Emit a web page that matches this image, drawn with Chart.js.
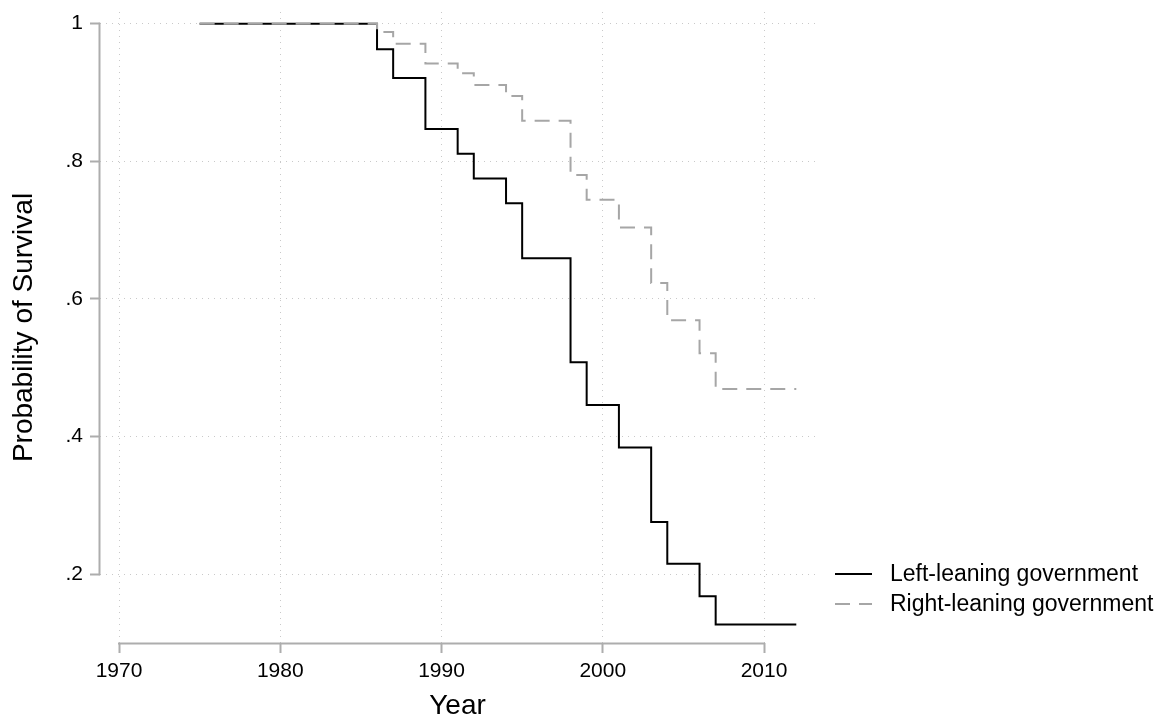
<!DOCTYPE html>
<html>
<head>
<meta charset="utf-8">
<title>Probability of Survival</title>
<script src="https://cdn.jsdelivr.net/npm/chart.js@4/dist/chart.umd.min.js"></script>
<style>
  html, body { margin: 0; padding: 0; background: #ffffff; }
  #wrap { width: 1164px; height: 722px; }
</style>
</head>
<body>
<div id="wrap"><canvas id="chart" width="1164" height="722"></canvas></div>
<script>
// Kaplan-Meier estimates (value holds until the next year)
const years          = [1975, 1986, 1987, 1989, 1991, 1992, 1994, 1995, 1998, 1999, 2001, 2003, 2004, 2006, 2007, 2012];
const leftSurvival   = [1, .963, .921, .847, .811, .775, .739, .659, .508, .446, .384, .276, .215, .168, .127, .127];
const rightSurvival  = [1, .988, .971, .942, .928, .911, .895, .859, .780, .744, .704, .623, .569, .521, .469, .469];
const seriesLabels   = ['Left-leaning government', 'Right-leaning government'];

// Axes
const xTicks      = [1970, 1980, 1990, 2000, 2010];
const yTicks      = [0.2, 0.4, 0.6, 0.8, 1];
const yTickLabels = ['.2', '.4', '.6', '.8', '1'];

const AXIS_GREY = '#adadad';
const GRID_GREY = '#c9c9c9';
const FONT = "'Liberation Sans', Arial, Helvetica, sans-serif";

Chart.defaults.font.family = FONT;
Chart.defaults.color = '#000';

// Stata-like axis lines (only over the tick range) + legend at bottom right
const frameAndLegend = {
  id: 'frameAndLegend',
  afterDraw(chart) {
    const { ctx, chartArea, scales: { x, y } } = chart;
    ctx.save();
    ctx.strokeStyle = AXIS_GREY;
    ctx.lineWidth = 2;
    ctx.setLineDash([]);
    ctx.beginPath();
    ctx.moveTo(x.getPixelForValue(xTicks[0]) - 1, chartArea.bottom + 0.5);
    ctx.lineTo(x.getPixelForValue(xTicks[xTicks.length - 1]) + 1, chartArea.bottom + 0.5);
    ctx.moveTo(chartArea.left - 0.5, y.getPixelForValue(yTicks[0]) + 1);
    ctx.lineTo(chartArea.left - 0.5, y.getPixelForValue(yTicks[yTicks.length - 1]) - 1);
    ctx.stroke();

    // legend
    ctx.font = '23px ' + FONT;
    ctx.textBaseline = 'middle';
    ctx.textAlign = 'left';
    chart.data.datasets.forEach((ds, i) => {
      const rowY = 574 + i * 30;
      ctx.strokeStyle = ds.borderColor;
      ctx.lineWidth = ds.borderWidth;
      ctx.setLineDash(ds.borderDash || []);
      ctx.beginPath();
      ctx.moveTo(835, rowY);
      ctx.lineTo(872, rowY);
      ctx.stroke();
      ctx.fillStyle = '#000';
      ctx.fillText(ds.label, 890, rowY + 1);
    });
    ctx.restore();
  }
};

const toPoints = vals => years.map((t, i) => ({ x: t, y: vals[i] }));

new Chart(document.getElementById('chart').getContext('2d'), {
  type: 'line',
  data: {
    datasets: [{
      label: seriesLabels[0],
      data: toPoints(leftSurvival),
      borderColor: '#000000',
      borderWidth: 2,
      stepped: true,
      pointRadius: 0,
      fill: false,
      order: 1
    }, {
      label: seriesLabels[1],
      data: toPoints(rightSurvival),
      borderColor: '#a6a6a6',
      borderWidth: 2,
      borderDash: [15, 9],
      stepped: true,
      pointRadius: 0,
      fill: false,
      order: 0              // drawn on top of the solid line, as in Stata
    }]
  },
  options: {
    responsive: false,
    animation: false,
    layout: { padding: { top: 12, right: 349, bottom: 0, left: 0 } },
    plugins: {
      legend: { display: false },
      tooltip: { enabled: false }
    },
    scales: {
      x: {
        type: 'linear',
        min: 1968.82,
        max: 2013.16,
        afterBuildTicks: s => { s.ticks = xTicks.map(v => ({ value: v })); },
        afterFit: s => { s.height = 79; s.paddingLeft = 0; s.paddingRight = 0; },
        ticks: { font: { size: 21 }, padding: 6, maxRotation: 0, callback: v => String(v) },
        grid: { color: GRID_GREY, lineWidth: 1, tickLength: 10, tickColor: AXIS_GREY, tickWidth: 2 },
        border: { display: false, dash: [1, 5] },
        title: { display: true, text: 'Year', font: { size: 28, lineHeight: 1.1 }, padding: { top: 0, bottom: 0 } }
      },
      y: {
        min: 0.1,
        max: 1.017,
        afterBuildTicks: s => { s.ticks = yTicks.map(v => ({ value: v })); },
        // fixed width and no label overflow padding, so the plot region sits where Stata put it
        afterFit: s => { s.width = 100; s.paddingTop = 0; s.paddingBottom = 0; },
        ticks: { font: { size: 21 }, padding: 7, callback: v => yTickLabels[yTicks.indexOf(v)] },
        grid: { color: GRID_GREY, lineWidth: 1, tickLength: 10, tickColor: AXIS_GREY, tickWidth: 2 },
        border: { display: false, dash: [1, 5] },
        title: { display: true, text: 'Probability of Survival', font: { size: 28, lineHeight: 1.1 }, padding: { top: 9, bottom: 0 } }
      }
    }
  },
  plugins: [frameAndLegend]
});
</script>
</body>
</html>
